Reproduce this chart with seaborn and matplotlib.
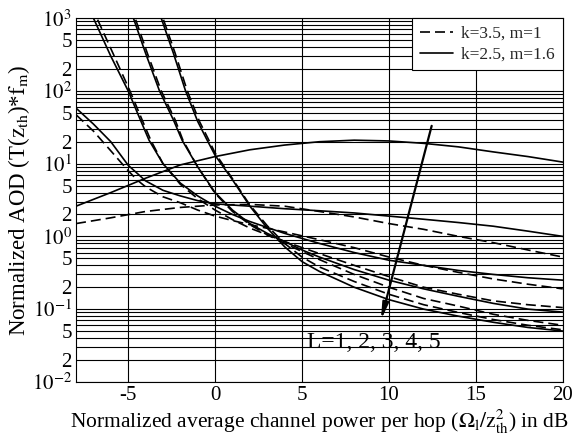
import numpy as np
import pandas as pd
import matplotlib
matplotlib.use("Agg")
import matplotlib.pyplot as plt
import matplotlib.ticker as mticker
from matplotlib.lines import Line2D
import seaborn as sns

# Normalized AOD curves, L = 1..5, for the two fading parameter sets
param_labels = ["k=3.5, m=1", "k=2.5, m=1.6"]

# solid curves (k=2.5, m=1.6)
s1_x = [-8, -6, -4, -2, 0, 2, 4, 6, 8, 10, 12, 14, 16, 18, 20]
s1_y = [2.6, 4.0, 6.3, 9.6, 12.5, 15.5, 18, 20, 21, 20.5, 19, 17, 14.5, 12.5, 10.5]
s2_x = [-8, -7, -6, -5, -4, -3, -2, -1, 0, 2, 4, 6, 8, 10, 12, 14, 16, 18, 20]
s2_y = [58, 35, 20, 9.5, 5.8, 4.3, 3.6, 3.1, 2.8, 2.6, 2.4, 2.25, 2.1, 1.9, 1.72, 1.55, 1.38, 1.18, 1.0]
s3_x = [-7.2, -7.0, -6, -5.0, -4.3, -3.8, -3, -2, -1, 0, 1, 2, 4, 6, 8, 10, 12, 14, 16, 18, 20]
s3_y = [1500, 1000, 300, 100, 40, 21, 10, 5.4, 3.6, 2.6, 2.0, 1.6, 1.1, 0.8, 0.6, 0.47, 0.4, 0.34, 0.3, 0.27, 0.25]
s4_x = [-4.9, -4.7, -4, -3.2, -2.4, -1.9, -1, 0, 1, 2, 3, 4, 5, 6, 8, 10, 12, 14, 16, 18, 20]
s4_y = [1500, 1000, 330, 100, 40, 21, 9.0, 4.0, 2.3, 1.5, 1.1, 0.85, 0.65, 0.52, 0.35, 0.25, 0.19, 0.15, 0.12, 0.1, 0.091]
s5_x = [-3.3, -3.1, -2.4, -1.7, -1.0, -0.5, 0, 1, 2, 3, 4, 5, 6, 8, 10, 12, 14, 16, 18, 20]
s5_y = [1500, 1000, 330, 100, 38, 22, 13, 6.0, 2.6, 1.3, 0.72, 0.45, 0.33, 0.2, 0.135, 0.1, 0.08, 0.066, 0.056, 0.05]

# dashed curves (k=3.5, m=1)
d1_x = [-8, -6, -4, -2, 0, 2, 4, 6, 8, 10, 12, 14, 16, 18, 20]
d1_y = [1.5, 1.8, 2.2, 2.5, 2.7, 2.75, 2.6, 2.2, 1.85, 1.5, 1.25, 1.0, 0.82, 0.65, 0.52]
d2_x = [-8, -7, -6, -5, -4.5, -4, -3, -2, -1, 0, 1, 2, 4, 6, 8, 10, 12, 14, 16, 18, 20]
d2_y = [47, 28, 15, 8, 6.0, 4.8, 3.5, 2.9, 2.3, 1.9, 1.65, 1.45, 1.15, 0.9, 0.7, 0.52, 0.4, 0.32, 0.26, 0.22, 0.19]
d3_x = [-7.0, -6.8, -5.8, -4.9, -4.2, -3.7, -3, -2, -1, 0, 1, 2, 4, 6, 8, 10, 12, 14, 16, 18, 20]
d3_y = [1500, 1000, 300, 100, 40, 21, 10, 5.2, 3.3, 2.3, 1.7, 1.3, 0.85, 0.58, 0.4, 0.28, 0.2, 0.16, 0.13, 0.115, 0.105]
d4_x = [-4.8, -4.6, -3.9, -3.1, -2.3, -1.85, -1, 0, 1, 2, 3, 4, 5, 6, 8, 10, 12, 14, 16, 18, 20]
d4_y = [1500, 1000, 330, 100, 40, 21, 9.0, 3.9, 2.2, 1.45, 1.05, 0.8, 0.62, 0.48, 0.3, 0.2, 0.14, 0.11, 0.085, 0.07, 0.06]
d5_x = [-3.2, -3.0, -2.3, -1.6, -0.9, -0.4, 0, 1, 2, 3, 4, 5, 6, 8, 10, 12, 14, 16, 18, 20]
d5_y = [1500, 1000, 330, 100, 38, 22, 14, 6.2, 2.7, 1.4, 0.8, 0.52, 0.38, 0.24, 0.16, 0.115, 0.09, 0.072, 0.06, 0.052]

solid = [(s1_x, s1_y), (s2_x, s2_y), (s3_x, s3_y), (s4_x, s4_y), (s5_x, s5_y)]
dashed = [(d1_x, d1_y), (d2_x, d2_y), (d3_x, d3_y), (d4_x, d4_y), (d5_x, d5_y)]

rows = []
for lbl, group in ((param_labels[1], solid), (param_labels[0], dashed)):
    for L, (xs, ys) in enumerate(group, start=1):
        for xv, yv in zip(xs, ys):
            rows.append({"snr": xv, "aod": yv, "params": lbl, "curve": f"{lbl} L={L}"})
df = pd.DataFrame(rows)

sns.set_theme(style="white")
plt.rcParams["font.family"] = ["Liberation Serif", "DejaVu Serif"]
plt.rcParams["mathtext.fontset"] = "stix"

fig = plt.figure(figsize=(5.76, 4.42), dpi=100)
ax = fig.add_axes([0.132, 0.136, 0.845, 0.823])

sns.lineplot(data=df, x="snr", y="aod", units="curve", style="params",
             estimator=None, sort=False, color="black", linewidth=1.2,
             dashes={param_labels[0]: (6, 3), param_labels[1]: ""},
             legend=False, ax=ax)

ax.set_yscale("log")
ax.set_xlim(-8, 20)
ax.set_ylim(1e-2, 1e3)

ax.xaxis.set_major_locator(mticker.FixedLocator([-5, 0, 5, 10, 15, 20]))
ax.xaxis.set_major_formatter(mticker.FuncFormatter(lambda v, p: f"{v:g}"))
ax.yaxis.set_major_locator(mticker.LogLocator(base=10, numticks=10))
ax.yaxis.set_major_formatter(mticker.FuncFormatter(lambda v, p: r"$10^{%d}$" % round(np.log10(v))))
ax.yaxis.set_minor_locator(mticker.LogLocator(base=10, subs=np.arange(2, 10), numticks=20))


def minor_fmt(v, p):
    mant = v / 10 ** np.floor(np.log10(v) + 1e-9)
    m = int(round(mant))
    return str(m) if m in (2, 5) else ""


ax.yaxis.set_minor_formatter(mticker.FuncFormatter(minor_fmt))

ax.grid(True, which="major", axis="both", color="black", linewidth=0.8)
ax.grid(True, which="minor", axis="y", color="black", linewidth=0.8)
ax.tick_params(axis="both", which="both", length=0, labelsize=15, pad=3, colors="black")
for sp in ax.spines.values():
    sp.set_color("black")
    sp.set_linewidth(0.8)

ax.set_xlabel(r"Normalized average channel power per hop ($\Omega_{\mathrm{l}}/\mathrm{z}^{2}_{\mathrm{th}}$) in dB",
              fontsize=15.5, color="black", labelpad=2)
ax.set_ylabel(r"Normalized AOD (T($\mathrm{z_{th}}$)*$\mathrm{f_m}$)", fontsize=16.5, color="black", labelpad=0)

handles = [Line2D([], [], color="black", lw=1.2, dashes=(6, 3)),
           Line2D([], [], color="black", lw=1.2)]
leg = ax.legend(handles, param_labels, loc="upper right", fontsize=12.5, frameon=True,
                fancybox=False, framealpha=1, edgecolor="black", borderaxespad=0,
                handlelength=1.9, handletextpad=0.5, borderpad=0.45, labelspacing=0.25)
leg.get_frame().set_linewidth(0.8)

ax.annotate("", xy=(9.5, 0.065), xytext=(12.5, 36),
            arrowprops=dict(arrowstyle="-|>,head_length=0.8,head_width=0.15", color="black", lw=1.6))
ax.text(5.3, 0.035, "L=1, 2, 3, 4, 5", fontsize=17, va="center", ha="left", color="black")

fig.savefig("out.png", dpi=100)
